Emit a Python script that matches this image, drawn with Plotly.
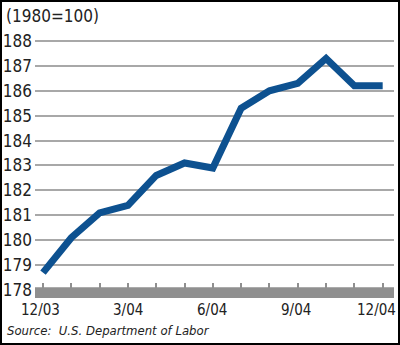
import plotly.graph_objects as go

months = ["12/03", "1/04", "2/04", "3/04", "4/04", "5/04", "6/04",
          "7/04", "8/04", "9/04", "10/04", "11/04", "12/04"]
cpi = [178.7, 180.1, 181.1, 181.4, 182.6, 183.1, 182.9,
       185.3, 186.0, 186.3, 187.3, 186.2, 186.2]
label_idx = [0, 3, 6, 9, 12]
label_text = ["12/03", "3/04", "6/04", "9/04", "12/04"]
label_shift = [-3, 0, -1, -2, -6]
y_ticks = [178, 179, 180, 181, 182, 183, 184, 185, 186, 187, 188]

W, H = 400, 345
L, R, T, B = 35, 6, 30, 47
pw, ph = W - L - R, H - T - B

x_idx = list(range(len(months)))
ymin, ymax = 177.68, 188.44

fig = go.Figure()
fig.add_trace(go.Scatter(
    x=x_idx, y=cpi, mode="lines",
    line=dict(color="#0d5190", width=7, shape="linear"),
    hoverinfo="skip", showlegend=False,
))

font = "DejaVu Sans Condensed, Liberation Sans Narrow, sans-serif"

fig.update_layout(
    width=W, height=H,
    margin=dict(l=L, r=R, t=T, b=B, autoexpand=False),
    paper_bgcolor="white", plot_bgcolor="white",
    xaxis=dict(
        range=[-0.283, 12.4], tickvals=x_idx, ticktext=[""] * len(x_idx),
        showgrid=False, zeroline=False, showline=False,
        ticks="inside", ticklen=15, tickwidth=1.5, tickcolor="#8f8f8f",
        automargin=False, fixedrange=True,
    ),
    yaxis=dict(
        range=[ymin, ymax], tickvals=y_ticks,
        showgrid=True, gridcolor="#a8a8a8", gridwidth=1.5,
        zeroline=False, showline=False, ticks="",
        tickfont=dict(family=font, size=17, color="#222"),
        ticklabelstandoff=2, automargin=False,
        fixedrange=True,
    ),
    font=dict(family=font),
)

# x tick labels
for xi, txt, sh in zip(label_idx, label_text, label_shift):
    fig.add_annotation(text=txt, x=xi, xref="x", yref="paper",
                       y=-(310 - T - ph) / ph, xshift=sh,
                       xanchor="center", yanchor="middle", showarrow=False,
                       font=dict(family=font, size=15, color="#222"))

# gray base band
fig.add_shape(type="rect", xref="paper", yref="y",
              x0=0, x1=1, y0=ymin, y1=178.11,
              fillcolor="#8f8f8f", line=dict(width=0), layer="above")

# outer border
fig.add_shape(type="rect", xref="paper", yref="paper",
              x0=-(L - 1) / pw, x1=1 + (R - 1) / pw,
              y0=-(B - 1) / ph, y1=1 + (T - 1) / ph,
              line=dict(color="black", width=2), fillcolor="rgba(0,0,0,0)")

fig.add_annotation(text="(1980=100)", xref="paper", yref="paper",
                   x=-(L - 4) / pw, y=1 + (T - 16) / ph,
                   xanchor="left", yanchor="middle", showarrow=False,
                   font=dict(family=font, size=17, color="#222"))
fig.add_annotation(text="<i>Source:  U.S. Department of Labor</i>",
                   xref="paper", yref="paper",
                   x=-(L - 5) / pw, y=-(330 - T - ph) / ph,
                   xanchor="left", yanchor="middle", showarrow=False,
                   font=dict(family="DejaVu Sans Condensed, sans-serif", size=13, color="#222"))

fig.write_html("out.html")
